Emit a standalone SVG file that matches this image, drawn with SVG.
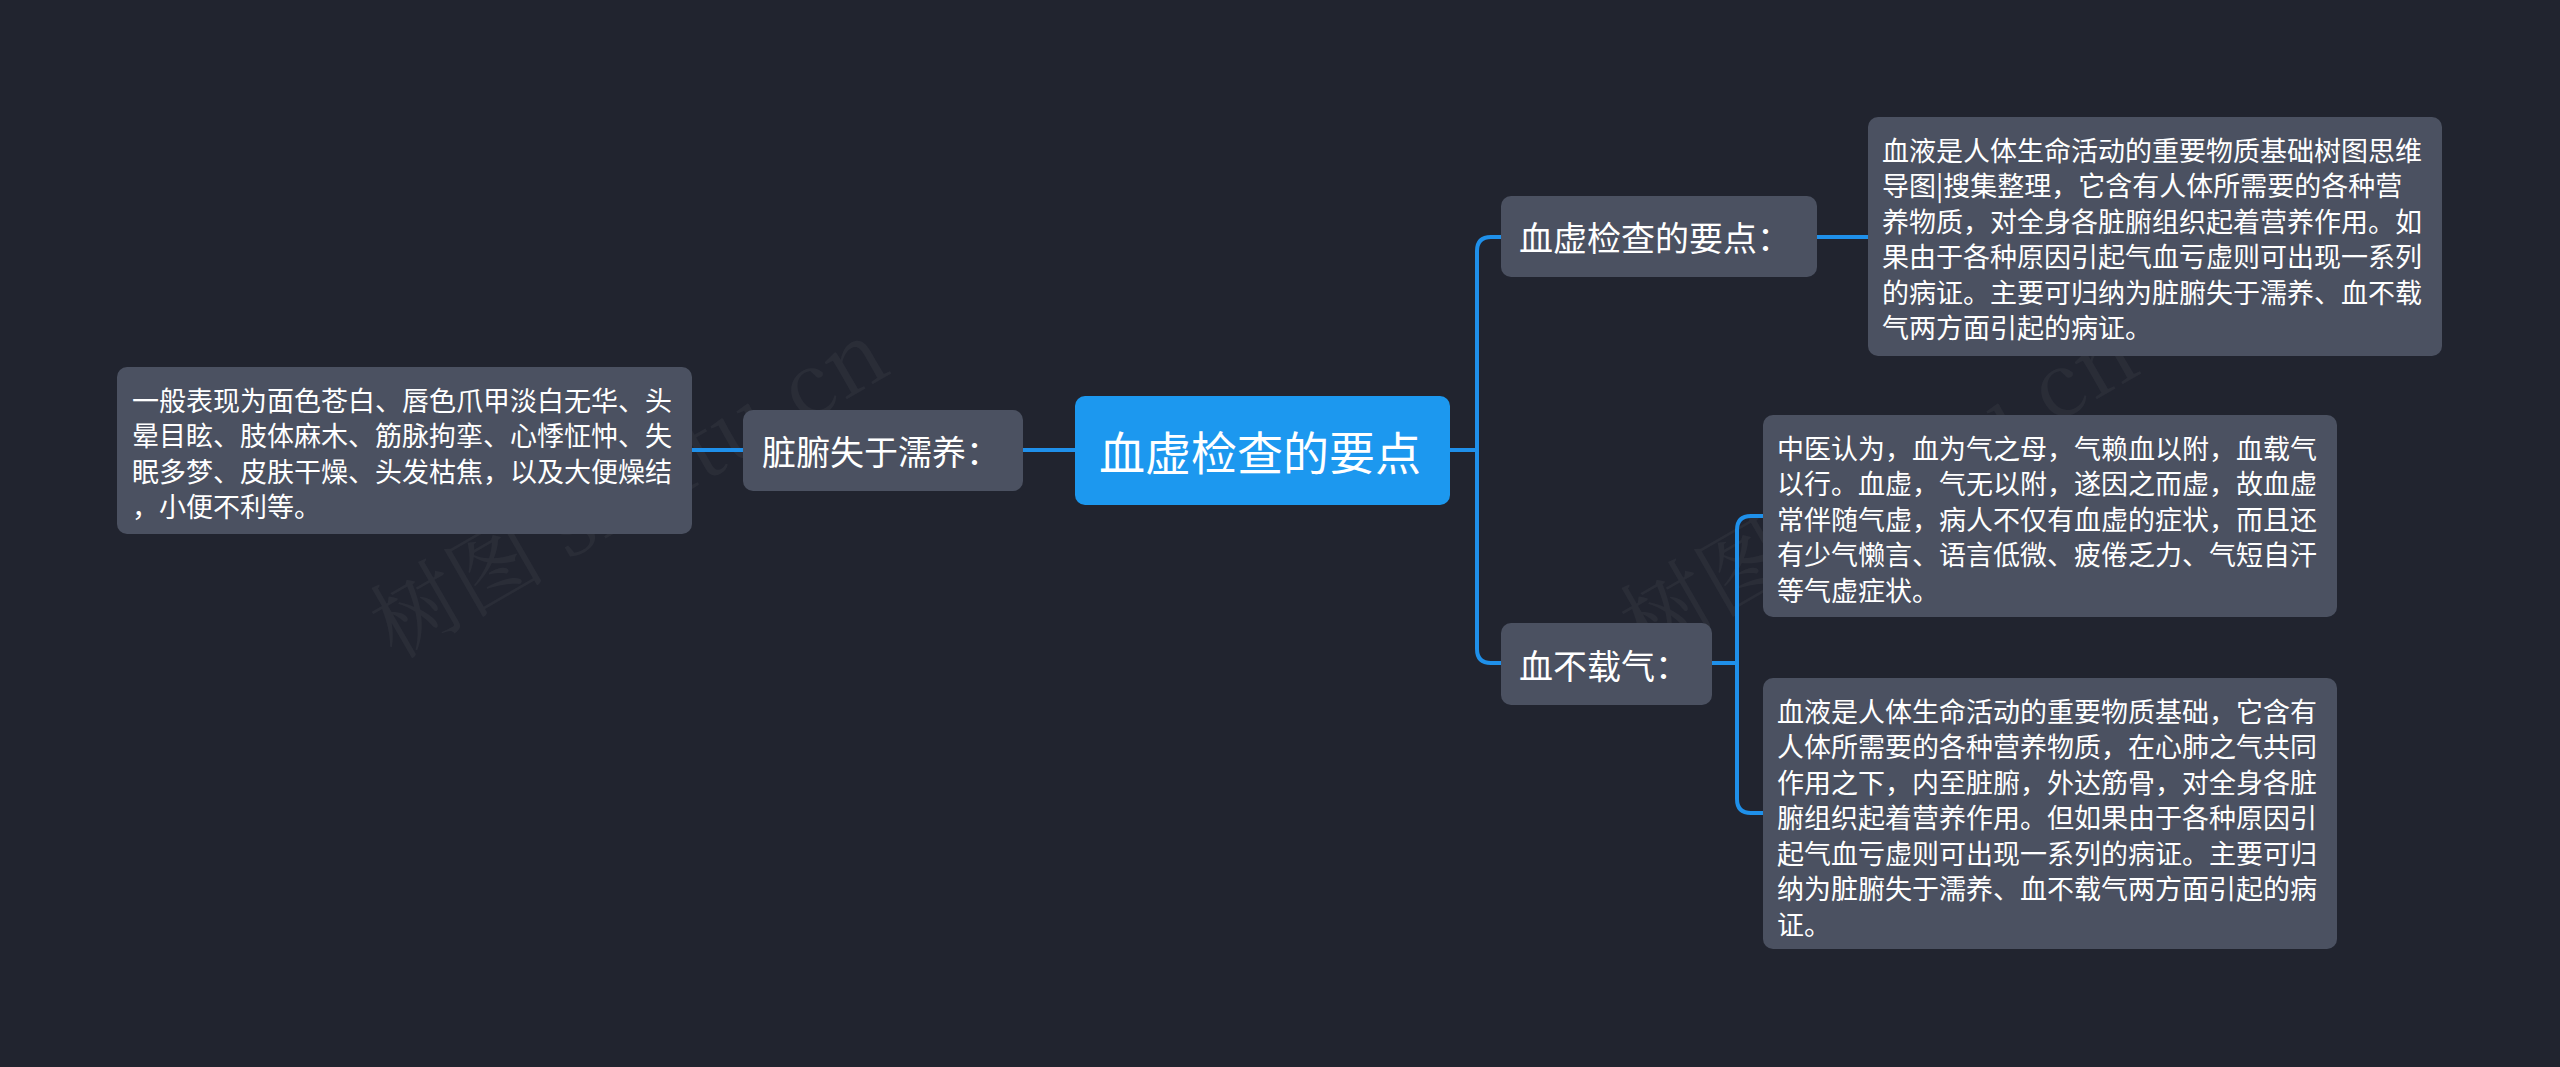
<svg xmlns="http://www.w3.org/2000/svg" width="2560" height="1067" viewBox="0 0 2560 1067">
<style>
.bg{fill:#21242f}
.box{fill:#4b5161}
.root{fill:#1c98ef}
.t{fill:#ffffff;font-family:"Noto Sans CJK SC","Noto Sans",sans-serif;dominant-baseline:central}
.d{font-size:27px}
.l{font-size:34px}
.r{font-size:46px}
.c{fill:none;stroke:#1f90ea;stroke-width:4;stroke-linecap:round}
.wm{fill:#ffffff;fill-opacity:0.045;font-family:"Noto Serif CJK SC","Liberation Serif",serif;font-size:88px}
</style>
<rect class="bg" x="0" y="0" width="2560" height="1067"/>
<g id="watermarks">
<text class="wm" transform="translate(395,660) rotate(-30)">树图 shutu.cn</text>
<text class="wm" transform="translate(1645,660) rotate(-30)">树图 shutu.cn</text>
</g>
<g id="connectors">
<path class="c" d="M1075,450 H1023"/>
<path class="c" d="M743,450 H692"/>
<path class="c" d="M1450,450 H1477"/>
<path class="c" d="M1477,450 V251 Q1477,237 1491,237 H1501"/>
<path class="c" d="M1477,450 V649 Q1477,663 1491,663 H1501"/>
<path class="c" d="M1817,237 H1868"/>
<path class="c" d="M1712,663 H1737"/>
<path class="c" d="M1737,663 V530 Q1737,516 1751,516 H1763"/>
<path class="c" d="M1737,663 V799 Q1737,813 1751,813 H1763"/>
</g>
<g id="root">
<rect class="root" x="1075" y="396" width="375" height="109" rx="10"/>
<text class="t r" x="1099" y="450">血虚检查的要点</text>
</g>
<g id="n-zangfu">
<rect class="box" x="743" y="410" width="280" height="81" rx="10"/>
<text class="t l" x="762" y="450.5">脏腑失于濡养：</text>
</g>
<g id="n-zangfu-detail">
<rect class="box" x="117" y="367" width="575" height="167" rx="10"/>
<text class="t d" x="132" y="399">一般表现为面色苍白、唇色爪甲淡白无华、头</text>
<text class="t d" x="132" y="434.5">晕目眩、肢体麻木、筋脉拘挛、心悸怔忡、失</text>
<text class="t d" x="132" y="470">眠多梦、皮肤干燥、头发枯焦，以及大便燥结</text>
<text class="t d" x="132" y="505.5">，小便不利等。</text>
</g>
<g id="n-yaodian">
<rect class="box" x="1501" y="196" width="316" height="81" rx="10"/>
<text class="t l" x="1519" y="236.5">血虚检查的要点：</text>
</g>
<g id="n-yaodian-detail">
<rect class="box" x="1868" y="117" width="574" height="239" rx="10"/>
<text class="t d" x="1882" y="149">血液是人体生命活动的重要物质基础树图思维</text>
<text class="t d" x="1882" y="184.5">导图|搜集整理，它含有人体所需要的各种营</text>
<text class="t d" x="1882" y="220">养物质，对全身各脏腑组织起着营养作用。如</text>
<text class="t d" x="1882" y="255.5">果由于各种原因引起气血亏虚则可出现一系列</text>
<text class="t d" x="1882" y="291">的病证。主要可归纳为脏腑失于濡养、血不载</text>
<text class="t d" x="1882" y="326.5">气两方面引起的病证。</text>
</g>
<g id="n-xuebuzaiqi">
<rect class="box" x="1501" y="623" width="211" height="82" rx="10"/>
<text class="t l" x="1519" y="664">血不载气：</text>
</g>
<g id="n-xuebuzaiqi-detail1">
<rect class="box" x="1763" y="415" width="574" height="202" rx="10"/>
<text class="t d" x="1777" y="447">中医认为，血为气之母，气赖血以附，血载气</text>
<text class="t d" x="1777" y="482.5">以行。血虚，气无以附，遂因之而虚，故血虚</text>
<text class="t d" x="1777" y="518">常伴随气虚，病人不仅有血虚的症状，而且还</text>
<text class="t d" x="1777" y="553.5">有少气懒言、语言低微、疲倦乏力、气短自汗</text>
<text class="t d" x="1777" y="589">等气虚症状。</text>
</g>
<g id="n-xuebuzaiqi-detail2">
<rect class="box" x="1763" y="678" width="574" height="271" rx="10"/>
<text class="t d" x="1777" y="710">血液是人体生命活动的重要物质基础，它含有</text>
<text class="t d" x="1777" y="745.5">人体所需要的各种营养物质，在心肺之气共同</text>
<text class="t d" x="1777" y="781">作用之下，内至脏腑，外达筋骨，对全身各脏</text>
<text class="t d" x="1777" y="816.5">腑组织起着营养作用。但如果由于各种原因引</text>
<text class="t d" x="1777" y="852">起气血亏虚则可出现一系列的病证。主要可归</text>
<text class="t d" x="1777" y="887.5">纳为脏腑失于濡养、血不载气两方面引起的病</text>
<text class="t d" x="1777" y="923">证。</text>
</g>
</svg>
